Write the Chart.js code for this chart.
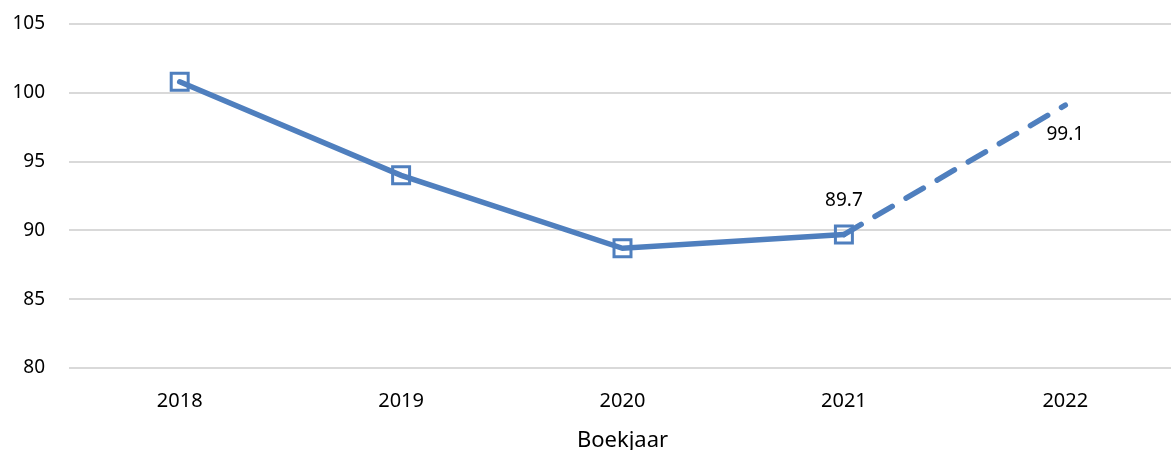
<!DOCTYPE html>
<html>
<head>
<meta charset="utf-8">
<script src="https://cdn.jsdelivr.net/npm/chart.js@4"></script>
<style>
  html, body { margin: 0; padding: 0; background: #fff; overflow: hidden; }
  #wrap { width: 1191px; height: 450px; }
</style>
</head>
<body>
<div id="wrap"><canvas id="lineChart" width="1191" height="450"></canvas></div>
<script>
// data
const years = ['2018', '2019', '2020', '2021', '2022'];
const values = [100.8, 94.0, 88.7, 89.7, 99.1];
const labelled = [null, null, null, '89.7', '99.1'];
const pointSizes = [12, 12, 12, 12, 0];

const blue = '#4f7fbe';

// value labels above/below points
const valueLabels = {
  id: 'valueLabels',
  afterDatasetsDraw(chart) {
    const ctx = chart.ctx;
    const meta = chart.getDatasetMeta(0);
    ctx.save();
    ctx.font = '19px "Noto Sans"';
    ctx.fillStyle = '#000';
    ctx.textAlign = 'center';
    ctx.textBaseline = 'middle';
    meta.data.forEach((pt, i) => {
      if (!labelled[i]) return;
      const dy = i === 4 ? 29 : -34;
      ctx.fillText(labelled[i], pt.x, pt.y + dy);
    });
    ctx.restore();
  }
};

new Chart(document.getElementById('lineChart'), {
  type: 'line',
  data: {
    labels: years,
    datasets: [{
      data: values,
      borderColor: blue,
      borderWidth: 5.5,
      borderCapStyle: 'round',
      tension: 0,
      pointStyle: 'rect',
      pointRadius: pointSizes,
      pointBorderWidth: 3,
      pointBorderColor: blue,
      pointBackgroundColor: 'rgba(0,0,0,0)',
      segment: {
        borderDash: c => c.p0DataIndex === 3 ? [20, 16] : undefined
      }
    }]
  },
  options: {
    responsive: false,
    animation: false,
    layout: { padding: { top: 24, right: 0, bottom: 0, left: 0 } },
    plugins: { legend: { display: false }, tooltip: { enabled: false } },
    scales: {
      x: {
        offset: true,
        grid: { display: false },
        border: { display: false },
        ticks: { color: '#000', padding: 13, font: { family: 'Noto Sans', size: 20 } },
        title: {
          display: true,
          text: 'Boekjaar',
          color: '#000',
          padding: { top: 0, bottom: -4 },
          font: { family: 'Noto Sans', size: 22 }
        },
        afterFit: s => { s.height = 82; }
      },
      y: {
        min: 80,
        max: 105,
        grid: { color: '#d9d9d9', lineWidth: 2, drawTicks: false },
        border: { display: false },
        ticks: { stepSize: 5, color: '#000', padding: 24, font: { family: 'Noto Sans', size: 19 } },
        afterFit: s => { s.width = 69; s.paddingTop = 0; s.paddingBottom = 0; }
      }
    }
  },
  plugins: [valueLabels]
});
</script>
</body>
</html>
